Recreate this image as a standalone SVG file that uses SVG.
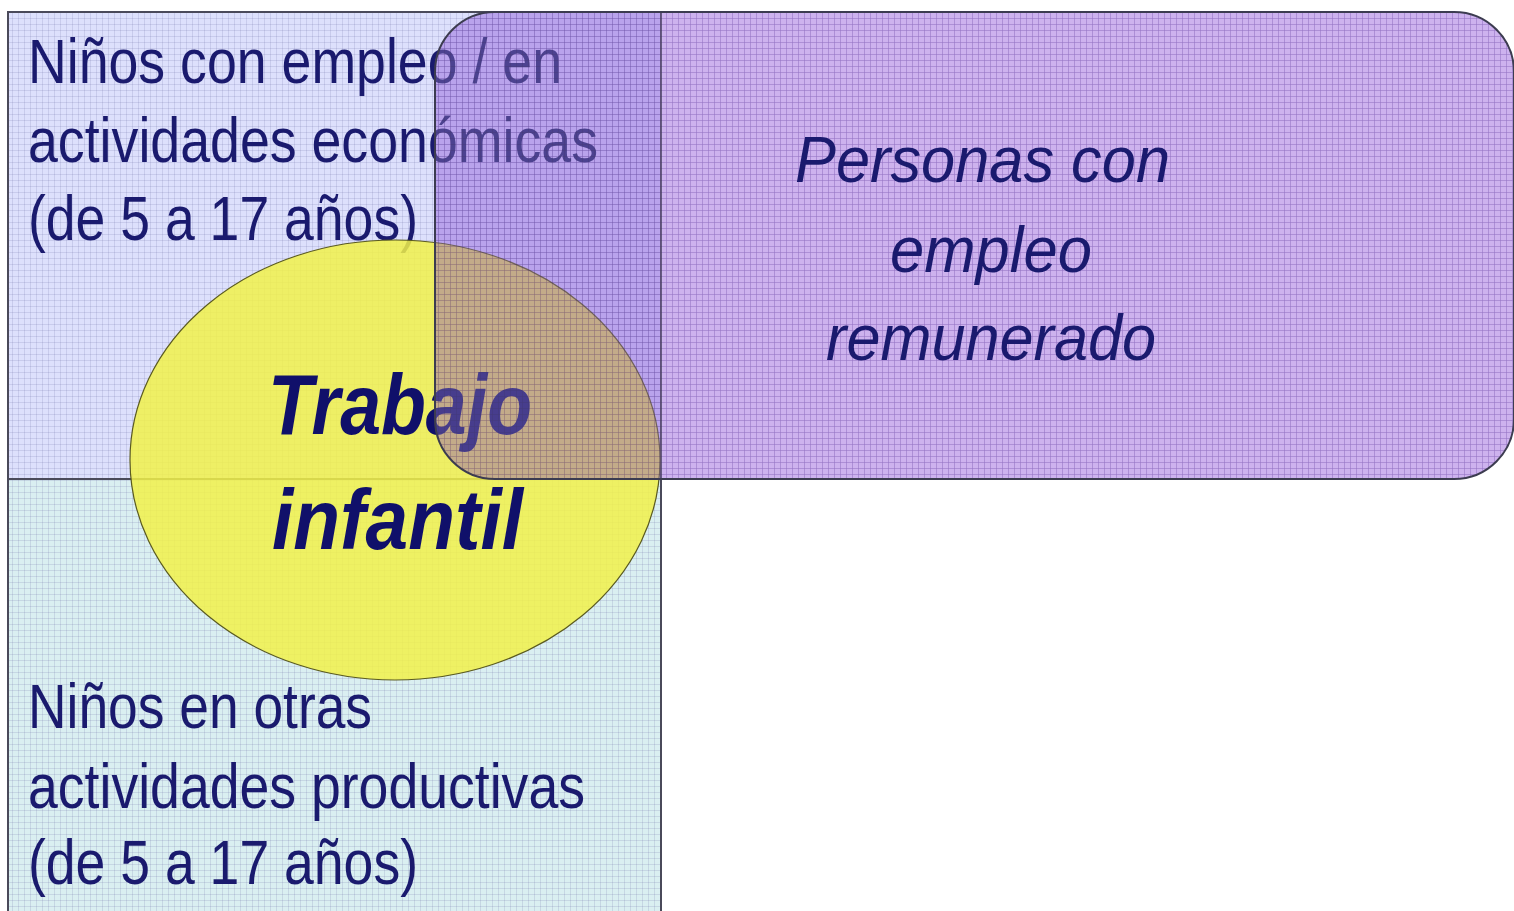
<svg xmlns="http://www.w3.org/2000/svg" width="1514" height="911" viewBox="0 0 1514 911">
<style>
.t{font-family:"Liberation Sans",Arial,sans-serif;font-size:63px;fill:#1a1a6e;}
.ti{font-family:"Liberation Sans",Arial,sans-serif;font-size:64px;font-style:italic;fill:#1a1a6e;}
.tb{font-family:"Liberation Sans",Arial,sans-serif;font-size:86px;font-style:italic;font-weight:bold;fill:#10106a;}
.box{stroke:#4a4a5a;stroke-width:2;}
</style>
<defs>
<pattern id="grid" width="6" height="6" patternUnits="userSpaceOnUse">
<path d="M0 0.5H6M0.5 0V6" stroke="#6a6aa0" stroke-opacity="0.18" stroke-width="1" fill="none"/>
</pattern>
<pattern id="gridp" width="6" height="6" patternUnits="userSpaceOnUse">
<rect width="6" height="6" fill="#cdb4ee"/>
<path d="M0 0.5H6M0.5 0V6" stroke="#7a58b0" stroke-opacity="0.55" stroke-width="1" fill="none"/>
</pattern>
</defs>
<rect width="1514" height="911" fill="#ffffff"/>
<g id="node-economicas">
<rect x="8" y="12" width="653" height="467" fill="#dde0fc"/>
<rect x="8" y="12" width="653" height="467" fill="url(#grid)" class="box"/>
<text class="t" x="28" y="83" textLength="534" lengthAdjust="spacingAndGlyphs">Niños con empleo / en</text>
<text class="t" x="28" y="162" textLength="570" lengthAdjust="spacingAndGlyphs">actividades económicas</text>
<text class="t" x="28" y="240" textLength="390" lengthAdjust="spacingAndGlyphs">(de 5 a 17 años)</text>
</g>
<g id="node-otras">
<rect x="8" y="479" width="653" height="440" fill="#daeff1"/>
<rect x="8" y="479" width="653" height="440" fill="url(#grid)" class="box"/>
<text class="t" x="28" y="728" textLength="344" lengthAdjust="spacingAndGlyphs">Niños en otras</text>
<text class="t" x="28" y="808" textLength="557" lengthAdjust="spacingAndGlyphs">actividades productivas</text>
<text class="t" x="28" y="884" textLength="390" lengthAdjust="spacingAndGlyphs">(de 5 a 17 años)</text>
</g>
<g id="node-trabajo">
<ellipse cx="395" cy="460" rx="265" ry="220" fill="#f1f14a" fill-opacity="0.85" stroke="#5a5a20" stroke-width="1.2"/>
<text class="tb" x="268" y="434" textLength="264" lengthAdjust="spacingAndGlyphs">Trabajo</text>
<text class="tb" x="272" y="549" textLength="251" lengthAdjust="spacingAndGlyphs">infantil</text>
</g>
<g id="node-personas">
<rect x="435" y="12" width="1079" height="467" rx="60" ry="60" fill="url(#gridp)" style="mix-blend-mode:multiply"/>
<rect x="435" y="12" width="1079" height="467" rx="60" ry="60" fill="#cdaff0" fill-opacity="0.3" stroke="#3c3c50" stroke-width="2"/>
<text class="ti" x="795" y="182" textLength="375" lengthAdjust="spacingAndGlyphs">Personas con</text>
<text class="ti" x="890" y="272" textLength="202" lengthAdjust="spacingAndGlyphs">empleo</text>
<text class="ti" x="826" y="360" textLength="330" lengthAdjust="spacingAndGlyphs">remunerado</text>
</g>
<g id="connectors"/>
</svg>
